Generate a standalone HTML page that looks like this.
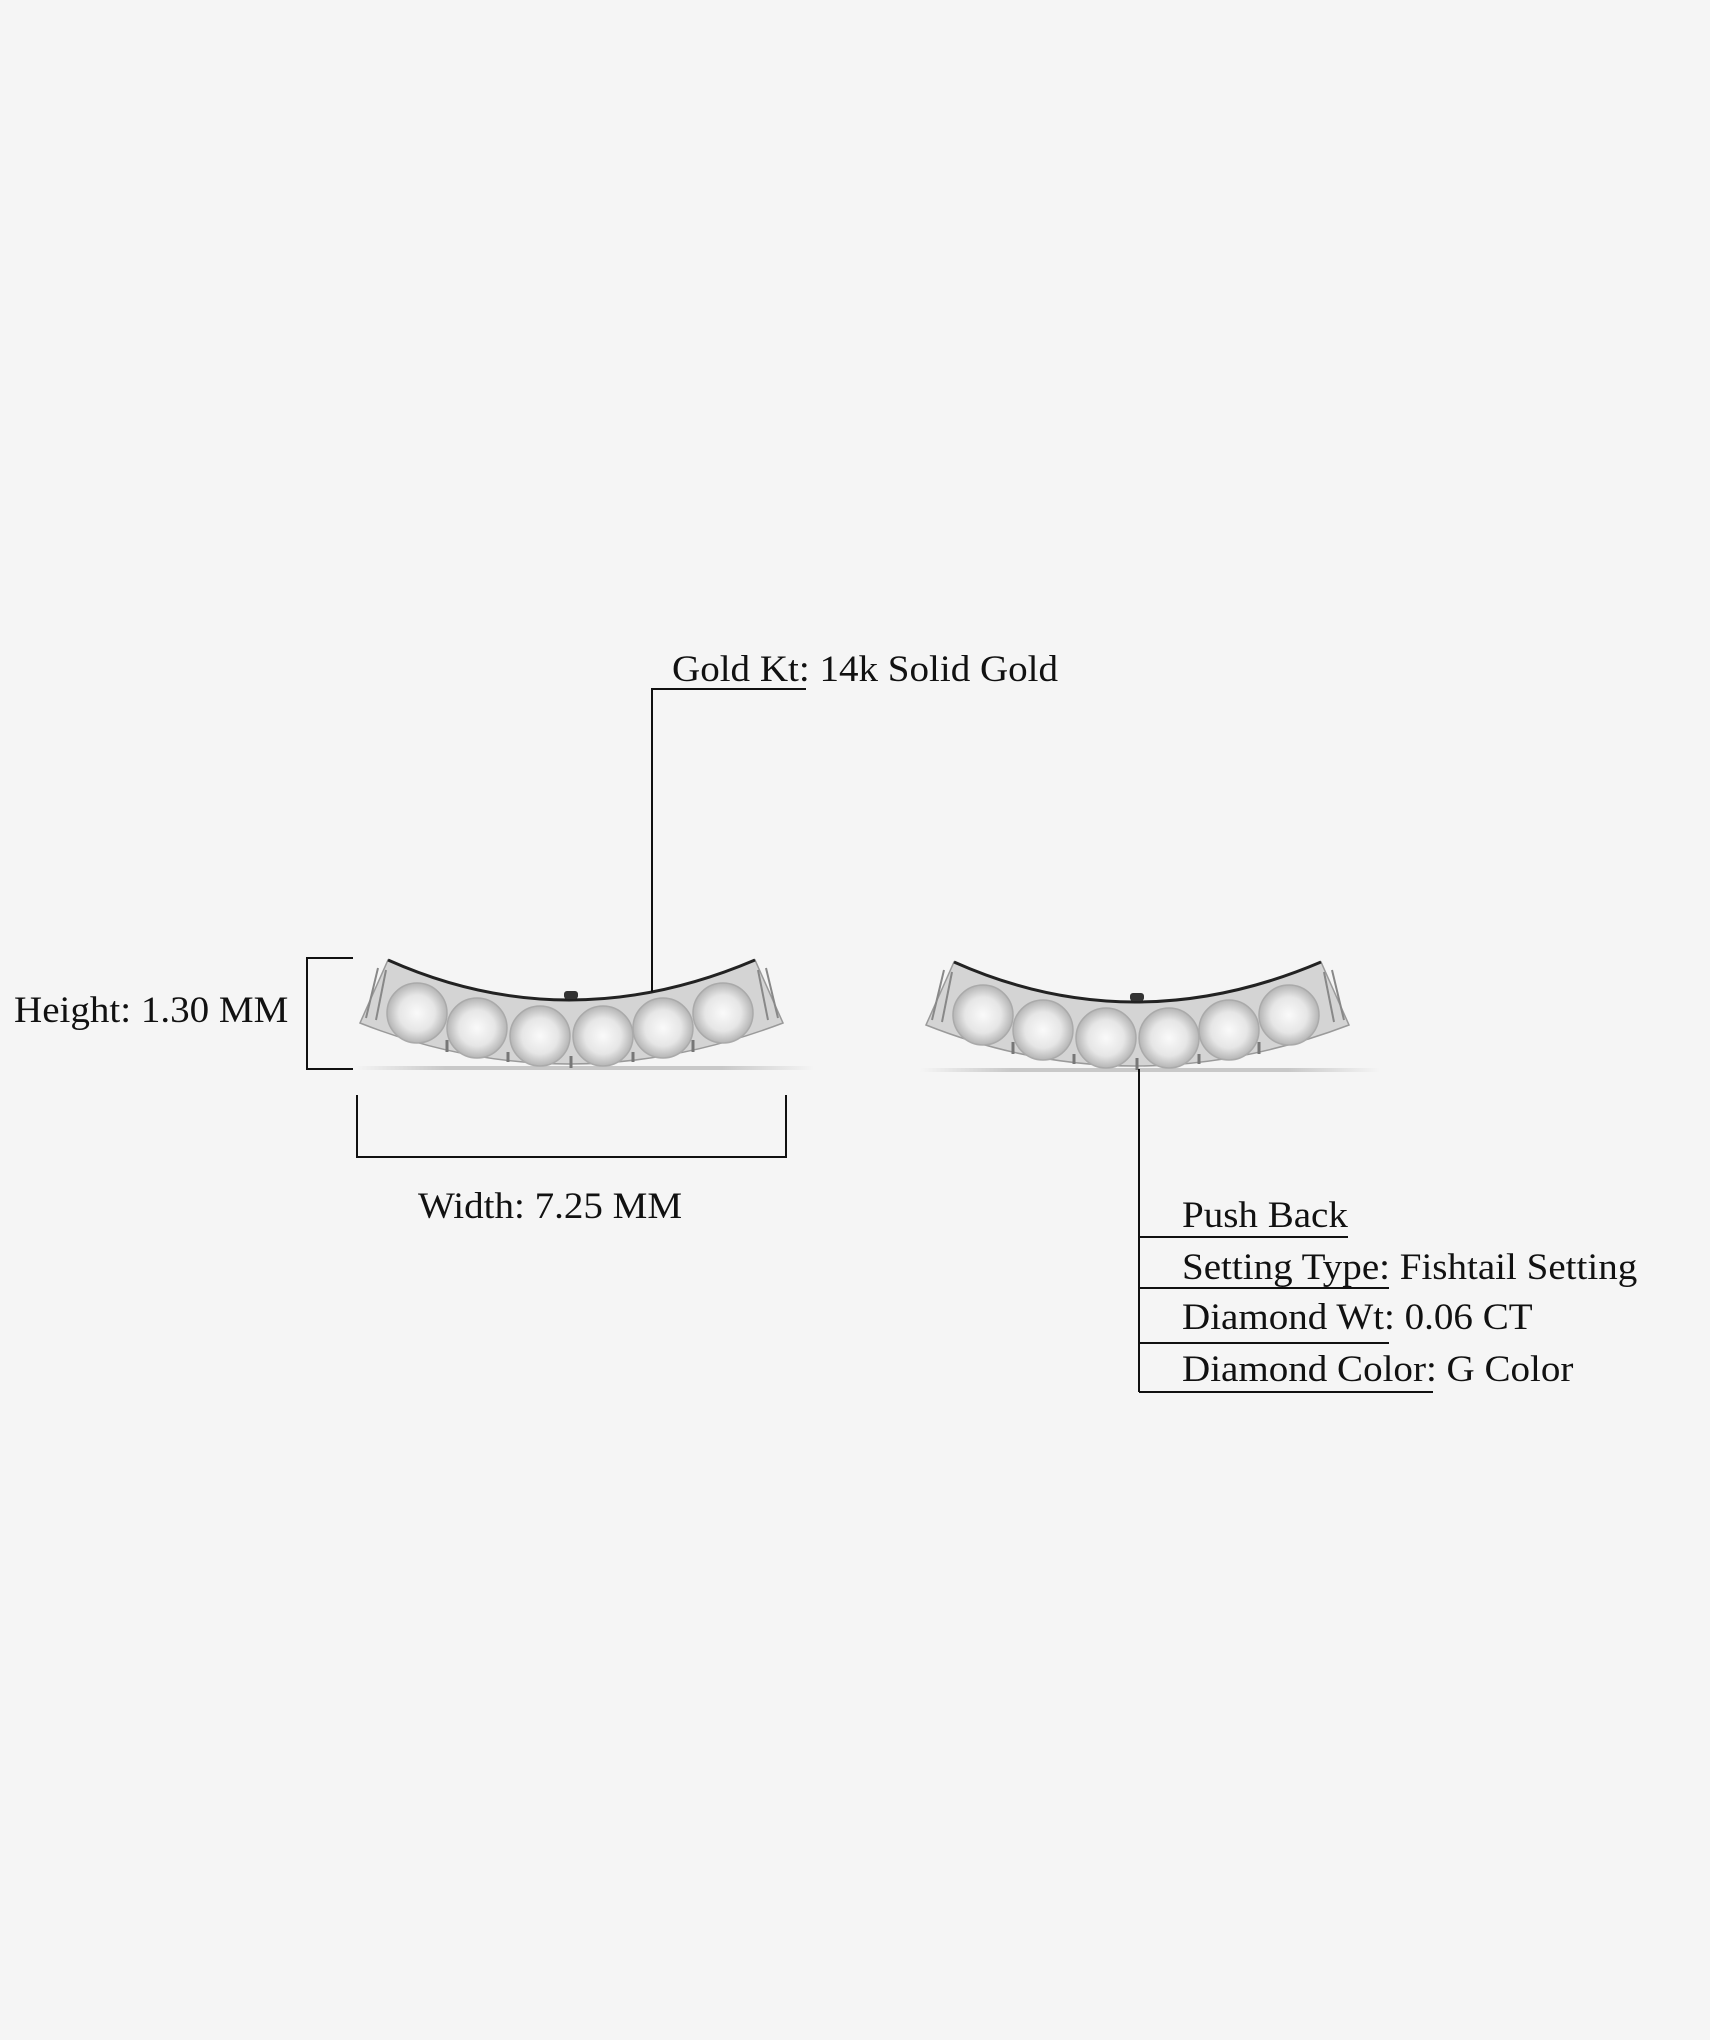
<!DOCTYPE html>
<html><head><meta charset="utf-8"><style>
html,body{margin:0;padding:0;background:#f5f5f5;}
body{width:1710px;height:2040px;position:relative;overflow:hidden;font-family:"Liberation Serif",serif;}
.t{position:absolute;font-size:37px;line-height:37px;color:#111;white-space:nowrap;transform:scaleX(1.055);transform-origin:left;}
</style></head><body>
<svg width="1710" height="2040" style="position:absolute;left:0;top:0">
<defs>
<linearGradient id="sh" x1="0" x2="1"><stop offset="0" stop-color="#f5f5f5"/><stop offset=".2" stop-color="#c8c8c8"/><stop offset=".8" stop-color="#c8c8c8"/><stop offset="1" stop-color="#f5f5f5"/></linearGradient>
<radialGradient id="dg"><stop offset="0" stop-color="#fafafa"/><stop offset=".6" stop-color="#e6e6e6"/><stop offset="1" stop-color="#b5b5b5"/></radialGradient>
<g id="ear">
<rect x="354" y="1066" width="460" height="4" fill="url(#sh)"/>
<path d="M38,20 Q217,100 405,20 L433,83 Q217,165 10,83 Z" transform="translate(350,940)" fill="#d4d4d4" stroke="#9a9a9a" stroke-width="1.5"/>
<path d="M38,20 Q217,100 405,20" transform="translate(350,940)" fill="none" stroke="#222" stroke-width="3"/>
<g stroke="#888" stroke-width="2">
<line x1="378" y1="968" x2="366" y2="1018"/><line x1="386" y1="970" x2="376" y2="1020"/>
<line x1="766" y1="968" x2="778" y2="1018"/><line x1="758" y1="970" x2="768" y2="1020"/>
</g>
<g fill="url(#dg)" stroke="#aaa" stroke-width="1.5">
<circle cx="417" cy="1013" r="30"/><circle cx="477" cy="1028" r="30"/><circle cx="540" cy="1036" r="30"/>
<circle cx="603" cy="1036" r="30"/><circle cx="663" cy="1028" r="30"/><circle cx="723" cy="1013" r="30"/>
</g>
<g stroke="#777" stroke-width="3">
<line x1="447" y1="1040" x2="447" y2="1052"/><line x1="508" y1="1052" x2="508" y2="1062"/><line x1="571" y1="1056" x2="571" y2="1068"/><line x1="633" y1="1052" x2="633" y2="1062"/><line x1="693" y1="1040" x2="693" y2="1052"/>
</g>
<rect x="564" y="991" width="14" height="8" rx="3" fill="#333"/>
</g>
</defs>
<use href="#ear"/>
<use href="#ear" transform="translate(566,2)"/>
<g stroke="#111" stroke-width="2" fill="none">
<polyline points="806,689 652,689 652,992"/>
<polyline points="353,958 307,958 307,1069 353,1069"/>
<polyline points="357,1095 357,1157 786,1157 786,1095"/>
<line x1="1139" y1="1069" x2="1139" y2="1392"/>
<line x1="1139" y1="1237" x2="1348" y2="1237"/>
<line x1="1139" y1="1288" x2="1389" y2="1288"/>
<line x1="1139" y1="1343" x2="1389" y2="1343"/>
<line x1="1139" y1="1392" x2="1433" y2="1392"/>
</g>
</svg>
<div class="t" style="left:672px;top:651px">Gold Kt: 14k Solid Gold</div>
<div class="t" style="left:14px;top:992px">Height: 1.30 MM</div>
<div class="t" style="left:418px;top:1188px">Width: 7.25 MM</div>
<div class="t" style="left:1182px;top:1197px">Push Back</div>
<div class="t" style="left:1182px;top:1249px">Setting Type: Fishtail Setting</div>
<div class="t" style="left:1182px;top:1299px">Diamond Wt: 0.06 CT</div>
<div class="t" style="left:1182px;top:1351px">Diamond Color: G Color</div>
</body></html>
